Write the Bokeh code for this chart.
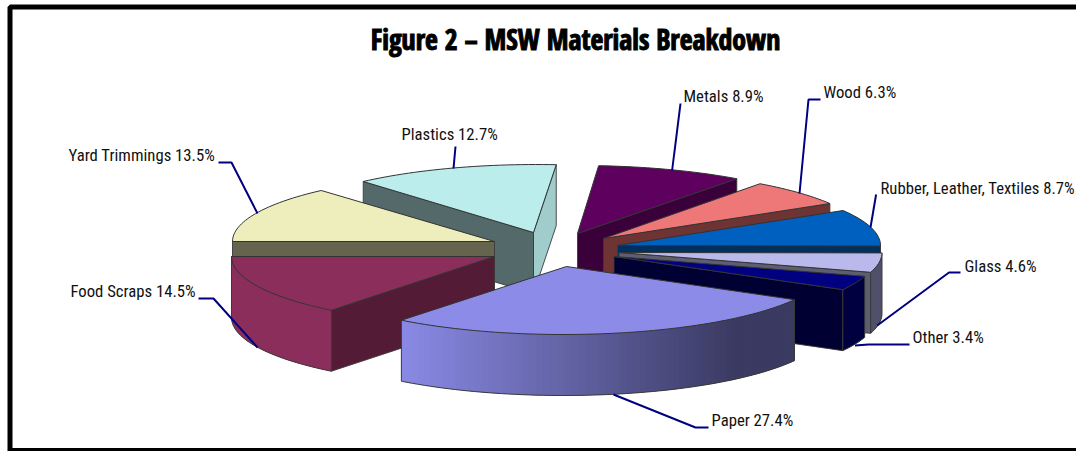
import math
from bokeh.plotting import figure
from bokeh.embed import file_html
from bokeh.resources import INLINE
from bokeh.core.properties import value

# ---- data ----
categories = ["Food Scraps", "Paper", "Other", "Glass", "Rubber, Leather, Textiles",
              "Wood", "Metals", "Plastics", "Yard Trimmings"]
percents = [14.5, 27.4, 3.4, 4.6, 8.7, 6.3, 8.9, 12.7, 13.5]

# ---- layout / style per slice (explosion of the pie, in page pixels) ----
apex_x = [494, 566, 613.5, 618.5, 617, 603, 577, 533, 494]
apex_y = [256, 266, 256, 252, 245, 238, 233, 232, 241]
rim_dx = [-5, -3, 0, 0, 0, 0, 1, 3, 0]
radius_x = [258, 264.5, 262, 263, 263, 264, 267, 262, 262]
top_col = ["#8C2E5C", "#8C8CE8", "#000080", "#B9B9EC", "#0060BF", "#EE7777", "#5E005E", "#BCEDED", "#EEEDBC"]
wall_a0 = ["#531B36", "#3B3B66", "#000033", "#5E5E72", "#003060", "#6E3434", "#3A003A", "#A0CCCC", "#65644F"]
wall_a1 = ["#531B36", "#3B3B66", "#000033", "#5E5E72", "#003060", "#6E3434", "#3A003A", "#546A6A", "#65644F"]
rim_from = [(0x8C, 0x2E, 0x5C), (0x8A, 0x8A, 0xE6), (0, 0, 0x40), (0x50, 0x50, 0x6A), (0, 0x30, 0x60),
            (0x6E, 0x34, 0x34), (0x3A, 0, 0x3A), (0xA0, 0xCC, 0xCC), (0x65, 0x64, 0x4F)]
rim_to = [(0x8C, 0x2E, 0x5C), (0x3A, 0x3A, 0x62), (0, 0, 0x40), (0x50, 0x50, 0x6A), (0, 0x30, 0x60),
          (0x6E, 0x34, 0x34), (0x3A, 0, 0x3A), (0xA0, 0xCC, 0xCC), (0x65, 0x64, 0x4F)]
draw_order = [7, 6, 5, 4, 3, 2, 8, 0, 1]
radius_y = 68
depth = 61
edge = "#3a3a3a"

# ---- labels: anchor and leader polyline (page pixels) ----
label_x = [70, 711, 912, 964, 880, 823, 683, 401, 68]
label_y = [291, 420, 337, 266, 188, 92, 96, 134, 155]
leader_x = [[198, 213, 257], [708, 695, 613], [909, 868, 854.5], [960, 948.5, 876.7], [875.6, 870],
            [820, 808, 799], [680, 671.6], [455, 453], [218, 231, 257]]
leader_y = [[298, 298, 347], [427, 427, 394], [344, 344, 345], [272, 272, 325], [194, 227],
            [99, 99, 193], [103, 170], [146, 168], [162, 162, 213]]

p = figure(width=1076, height=451, x_range=(0, 1076), y_range=(451, 0),
           output_backend="svg", toolbar_location=None, min_border=0,
           background_fill_color="white", border_fill_color="white", outline_line_color=None)
p.axis.visible = False
p.grid.visible = False

# frame
p.multi_line([[9.5, 9.5, 1076], [9, 1076]], [[451, 6.5, 6.5], [450, 450]],
             line_color="black", line_width=5)

# angles: clockwise on the page, starting from due west
angles = []
a = 180.0
for v in percents:
    b = a - v * 3.6
    angles.append((a, b))
    a = b


def rim(i, t):
    r = math.radians(t)
    return (apex_x[i] + rim_dx[i] + radius_x[i] * math.cos(r), apex_y[i] + radius_y * math.sin(r))


def arc(i, t0, t1):
    n = max(2, int(abs(t1 - t0) / 1.5))
    return [rim(i, t0 + (t1 - t0) * k / n) for k in range(n + 1)]


def poly(pts, fill, line=edge, width=0.9):
    p.patch([q[0] for q in pts], [q[1] for q in pts], fill_color=fill, line_color=line, line_width=width)


def rgb(c):
    return "#%02x%02x%02x" % tuple(int(round(v)) for v in c)


for i in draw_order:
    a0, a1 = angles[i]
    ap = (apex_x[i], apex_y[i])
    # radial walls: drawn when the slice body lies behind the radial edge
    for t, col in ((a0, wall_a0[i]), (a1, wall_a1[i])):
        e = rim(i, t)
        dx, dy = e[0] - ap[0], e[1] - ap[1]
        cx, cy = rim(i, (a0 + a1) / 2)
        cross_here = dx * (cy - ap[1]) - dy * (cx - ap[0])
        side = cross_here * (1 if dx > 0 else -1)
        if side < 0:
            poly([ap, e, (e[0], e[1] + depth), (ap[0], ap[1] + depth)], col)
    # outer rim wall (only the part facing the viewer)
    lo, hi = max(min(a0, a1), 0.0), min(max(a0, a1), 180.0)
    if hi > lo:
        pts = arc(i, hi, lo)
        n = len(pts) - 1
        x_l, x_r = pts[0][0], pts[-1][0]
        for k in range(n):
            f = ((pts[k][0] + pts[k + 1][0]) / 2 - x_l) / max(1.0, x_r - x_l)
            f = min(1.0, f / 0.85)
            col = rgb([rim_from[i][c] + (rim_to[i][c] - rim_from[i][c]) * f for c in range(3)])
            nxt = pts[min(k + 2, n)]
            quad = [pts[k], pts[k + 1], nxt, (nxt[0], nxt[1] + depth),
                    (pts[k + 1][0], pts[k + 1][1] + depth), (pts[k][0], pts[k][1] + depth)]
            p.patch([q[0] for q in quad], [q[1] for q in quad], fill_color=col, line_color=None)
        p.line([q[0] for q in pts], [q[1] + depth for q in pts], line_color=edge, line_width=1)
        p.line([pts[0][0], pts[0][0]], [pts[0][1], pts[0][1] + depth], line_color=edge, line_width=1)
        p.line([pts[-1][0], pts[-1][0]], [pts[-1][1], pts[-1][1] + depth], line_color=edge, line_width=1)
    # top face
    poly([ap] + arc(i, a0, a1), top_col[i], line="#333333", width=1)

# leaders
p.multi_line(leader_x, leader_y, line_color="#000080", line_width=2)

# labels
texts = ["%s %.1f%%" % (c, v) for c, v in zip(categories, percents)]
p.text(label_x, label_y, text=texts, text_font=value("Roboto Condensed"), text_font_size="16.7px",
       text_color="#111111", text_align="left", text_baseline="middle")

# title
p.text([575], [38.5], text=["Figure 2 \u2013 MSW Materials Breakdown"], text_font=value("Open Sans Condensed"),
       text_font_size="27.8px", text_font_style="bold", text_color="black", text_outline_color="black",
       text_align="center", text_baseline="middle")

open("out.html", "w").write(file_html(p, INLINE))
